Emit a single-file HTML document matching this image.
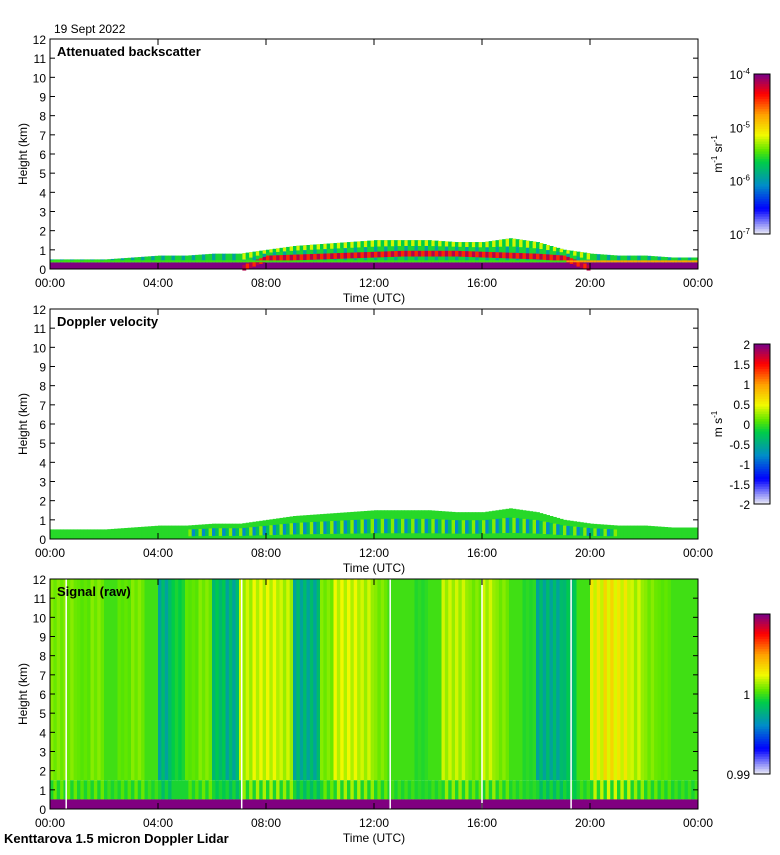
<!DOCTYPE html>
<html><head><meta charset="utf-8">
<style>
body{margin:0;background:#fff;}
svg text{font-family:"Liberation Sans",sans-serif;font-size:12px;fill:#000;}
</style></head>
<body>
<svg id="c" width="780" height="850" xmlns="http://www.w3.org/2000/svg">
<text x="54" y="33">19 Sept 2022</text>
<text x="4" y="843" style="font-weight:bold;font-size:13px">Kenttarova 1.5 micron Doppler Lidar</text>
<g id="layers"></g>
</svg>
<script>
// ---- data ----
const hours = [0,1,2,3,4,5,6,7,8,9,10,11,12,13,14,15,16,17,18,19,20,21,22,23,24];
const blTop = [0.5,0.5,0.5,0.6,0.7,0.7,0.8,0.8,1.0,1.2,1.3,1.4,1.5,1.5,1.5,1.4,1.4,1.6,1.4,1.0,0.8,0.7,0.7,0.6,0.6];
const cloudLayer = [0,0,0,0,0,0,0,0,0.55,0.6,0.65,0.7,0.75,0.8,0.8,0.8,0.75,0.7,0.65,0.55,0,0,0,0,0];
const signal = [1.001,1.001,1.0005,1.001,1.0,1.0005,1.001,1.0,0.997,0.999,1.0005,1.001,0.998,0.997,1.002,1.0025,1.0025,1.002,0.997,0.997,1.001,1.0025,1.0025,1.002,1.001,1.0,1.0,0.9995,1.0,1.002,1.002,1.001,1.002,1.001,1.0,0.9995,0.997,0.997,0.998,1.0,1.003,1.0035,1.003,1.002,1.001,1.0005,1.0,1.0];
const xTickLabels = ["00:00","04:00","08:00","12:00","16:00","20:00","00:00"];
const yTicks = [0,1,2,3,4,5,6,7,8,9,10,11,12];
const velTicks = [2,1.5,1,0.5,0,-0.5,-1,-1.5,-2];

const NS="http://www.w3.org/2000/svg";
const svg=document.getElementById('layers');
function el(t,a,p){const e=document.createElementNS(NS,t);for(const k in a)e.setAttribute(k,a[k]);(p||svg).appendChild(e);return e;}
const X0=50,X1=698;
function xs(h){return X0+(X1-X0)*h/24;}
function ys(top){return km=>top+230-230*km/12;}
const stops=[[0,[225,225,245]],[0.15,[0,0,255]],[0.3,[0,140,200]],[0.45,[0,205,70]],[0.52,[90,230,0]],[0.62,[240,250,0]],[0.75,[255,160,0]],[0.88,[255,0,0]],[1,[128,0,128]]];
function cmap(t){t=Math.max(0,Math.min(1,t));for(let i=1;i<stops.length;i++){if(t<=stops[i][0]){const a=stops[i-1],b=stops[i],f=(t-a[0])/(b[0]-a[0]);return 'rgb('+a[1].map((v,j)=>Math.round(v+(b[1][j]-v)*f)).join(',')+')';}}return 'rgb(128,0,128)';}

function axes(top,name,title){
  const y=ys(top);const g=el('g',{});
  
  el('rect',{x:X0,y:top,width:X1-X0,height:230,fill:'none',stroke:'#000'},g);
  yTicks.forEach(k=>{const t=el('text',{x:X0-4,y:y(k)+5,'text-anchor':'end'},g);t.textContent=k;
    el('line',{x1:X0,x2:X0+5,y1:y(k),y2:y(k),stroke:'#000'},g);el('line',{x1:X1-5,x2:X1,y1:y(k),y2:y(k),stroke:'#000'},g);});
  xTickLabels.forEach((l,i)=>{const x=xs(i*4);const t=el('text',{x:x,y:top+248,'text-anchor':'middle'},g);t.textContent=l;
    el('line',{x1:x,x2:x,y1:top+230,y2:top+224,stroke:'#000'},g);el('line',{x1:x,x2:x,y1:top,y2:top+6,stroke:'#000'},g);});
  const xl=el('text',{x:374,y:top+263,'text-anchor':'middle'},g);xl.textContent='Time (UTC)';
  
  const yl=el('text',{x:0,y:0,'text-anchor':'middle',transform:'translate(27,'+(top+115)+') rotate(-90)'},g);yl.textContent='Height (km)';
  
  const tt=el('text',{x:X0+7,y:top+17,style:'font-weight:bold;font-size:13px'},g);tt.textContent=title;
  
}
function interp(arr,h){const i=Math.min(23,Math.floor(h));const f=h-i;return arr[i]+(arr[i+1]-arr[i])*f;}

// Panel 1: backscatter
(function(){const top=39,y=ys(top);const g=el('g',{});
 
 for(let c=0;c<192;c++){const h=c/8,w=(X1-X0)/192+0.5,x=xs(h),bt=interp(blTop,h),cl=interp(cloudLayer,h);
  el('rect',{x:x,y:y(0.35),width:w,height:y(0)-y(0.35),fill:cmap(1)},g);
  el('rect',{x:x,y:y(bt),width:w,height:y(0.35)-y(bt),fill:cmap(c%3==0?0.35:0.47)},g);
  if(cl>0){el('rect',{x:x,y:y(bt),width:w,height:(y(cl+0.2)-y(bt))*0.6,fill:cmap(c%2?0.6:0.45)},g);
   el('rect',{x:x,y:y(cl+0.15),width:w,height:y(cl-0.15)-y(cl+0.15),fill:cmap(c%2?0.95:0.85)},g);}
  el('rect',{x:x,y:y(0.45),width:w,height:y(0.35)-y(0.45),fill:cmap(h>19?0.75:0.5)},g);}
 axes(top,'backscatter','Attenuated backscatter');})();

// Panel 2: velocity
(function(){const top=309,y=ys(top);const g=el('g',{});
 
 for(let c=0;c<192;c++){const h=c/8,w=(X1-X0)/192+0.5,x=xs(h),bt=interp(blTop,h);
  el('rect',{x:x,y:y(bt),width:w,height:y(0)-y(bt),fill:cmap(0.48)},g);
  if(bt>0.7)el('rect',{x:x,y:y(bt*0.7),width:w,height:y(bt*0.2)-y(bt*0.7),fill:cmap(c%3==0?0.3:(c%3==1?0.42:0.55))},g);}
 axes(top,'velocity','Doppler velocity');})();

// Panel 3: signal
(function(){const top=579,y=ys(top);const g=el('g',{});
 
 signal.forEach((v,i)=>{const t=(v-0.99)/0.02;
  for(let s=0;s<4;s++){const h=i/2+s/8,w=(X1-X0)/192+0.5,x=xs(h);
   const ts=s%2?(t*0.6+0.5*0.4):t;
   el('rect',{x:x,y:y(12),width:w,height:y(1.5)-y(12),fill:cmap(ts)},g);
   el('rect',{x:x,y:y(1.5),width:w,height:y(0.5)-y(1.5),fill:cmap(s%2?ts:0.47)},g);
   el('rect',{x:x,y:y(0.5),width:w,height:y(0)-y(0.5),fill:cmap(1)},g);}});
 [0.6,7.1,12.6,16,19.3].forEach(h=>el('line',{x1:xs(h),x2:xs(h),y1:y(12),y2:y(0),stroke:'#fff','stroke-width':1.5},g));
 axes(top,'signal','Signal (raw)');})();

// Colorbars
function colorbar(top,name,labels,unit){const g=el('g',{});
 
 for(let i=0;i<64;i++){el('rect',{x:754,y:top+160-(i+1)*2.5,width:16,height:2.6,fill:cmap(i/63)},g);}
 el('rect',{x:754,y:top,width:16,height:160,fill:'none',stroke:'#000'},g);
 labels.forEach(l=>{const t=el('text',{x:750,y:top+l[0]*160+5,'text-anchor':'end'},g);t.innerHTML=l[1];});
 if(unit){const u=el('text',{x:0,y:0,'text-anchor':'middle',transform:'translate(722,'+(top+80)+') rotate(-90)'},g);u.innerHTML=unit;}}
colorbar(74,'backscatter',[[0,'10<tspan dy="-5" font-size="8">-4</tspan>'],[1/3,'10<tspan dy="-5" font-size="8">-5</tspan>'],[2/3,'10<tspan dy="-5" font-size="8">-6</tspan>'],[1,'10<tspan dy="-5" font-size="8">-7</tspan>']],'m<tspan dy="-5" font-size="8">-1</tspan><tspan dy="5"> sr</tspan><tspan dy="-5" font-size="8">-1</tspan>');
colorbar(344,'velocity',velTicks.map((v,i)=>[i/8,String(v)]),'m s<tspan dy="-5" font-size="8">-1</tspan>');
colorbar(614,'signal',[[0.5,'1'],[1,'0.99']],null);
</script>
</body></html>
